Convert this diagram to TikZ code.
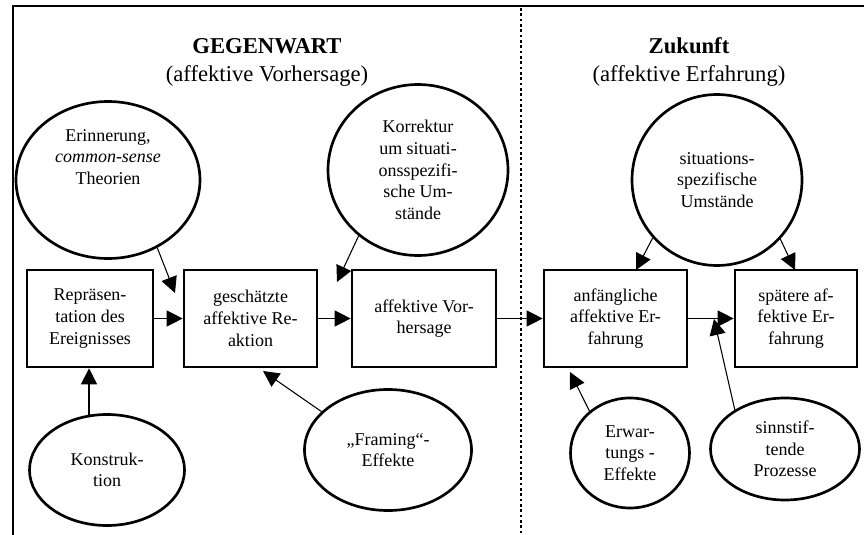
\documentclass[tikz,border=0pt]{standalone}
\usepackage{fontspec}
\setmainfont{Liberation Serif}
\usetikzlibrary{arrows.meta,shapes.geometric}

\begin{document}
\begin{tikzpicture}[x=0.75pt,y=-0.75pt,
	box/.style={draw,line width=2pt,minimum height=72.75pt,inner sep=0pt,align=center,font=\fontsize{13.5}{16.25}\selectfont},
	bubble/.style={draw,ellipse,line width=2pt,inner sep=0pt,align=center,font=\fontsize{13.5}{16.25}\selectfont},
	txt/.style={align=center,inner sep=0pt,font=\fontsize{13.5}{16.25}\selectfont},
	head/.style={anchor=base,inner sep=0pt,font=\fontsize{17}{21}\selectfont},
	arr/.style={-{Triangle[length=12pt,width=12pt]},line width=0.8pt}]
	\useasboundingbox (0,0) rectangle (864,535);

	% frame and divider
	\draw[line width=2.2pt] (13,535) -- (13,6) -- (864,6);
	\draw[line width=2pt,dash pattern=on 2pt off 2pt] (521,8) -- (521,535);

	% headings
	\node[head] (gegen) at (267,54) {\bfseries GEGENWART};
	\node[head] (gegensub) at (267,82) {(affektive Vorhersage)};
	\node[head] (zuk) at (689,54) {\bfseries Zukunft};
	\node[head] (zuksub) at (689,82) {(affektive Erfahrung)};

	% boxes
	\foreach \nm/\x/\w/\txt in {
		rep/90/94.5/{Repräsen-\\tation des\\Ereignisses},
		schaetz/250.5/99.75/{geschätzte\\affektive Re-\\aktion},
		vorh/424/108/{affektive Vor-\\hersage},
		anf/615.5/107.25/{anfängliche\\affektive Er-\\fahrung},
		spaet/796/91.5/{spätere af-\\fektive Er-\\fahrung}%
	} {
		\node[box,minimum width=\w pt] (\nm) at (\x,318.5) {\txt};
	}

	% bubbles
	\node[bubble,minimum width=138pt,minimum height=117.75pt] (erin) at (108,180) {};
	\node[txt] (erintxt) at (108,157) {Erinnerung,\\\textit{common-sense}\\Theorien};
	\node[bubble,minimum width=135pt,minimum height=128.25pt] (korr) at (418,170) {Korrektur\\um situati-\\onsspezifi-\\sche Um-\\stände};
	\node[bubble,minimum width=127.5pt,minimum height=128.25pt] (situ) at (717,180) {situations-\\spezifische\\Umstände};
	\node[bubble,minimum width=116.25pt,minimum height=83.25pt] (konstr) at (107,470) {Konstruk-\\tion};
	\node[bubble,minimum width=125.25pt,minimum height=90.75pt] (framing) at (388,450) {„Framing“-\\Effekte};
	\node[bubble,minimum width=89.25pt,minimum height=82.5pt] (erw) at (630,453) {Erwar-\\tungs -\\Effekte};
	\node[bubble,minimum width=111.75pt,minimum height=76.5pt] (sinn) at (785,449) {sinnstif-\\tende\\Prozesse};

	% arrow ends
	\coordinate (erintip) at (175,293);
	\coordinate (korrtip) at (337,282);
	\coordinate (frametip) at (263,371);
	\coordinate (situtipa) at (636,270);
	\coordinate (situtipb) at (795,270);
	\coordinate (erwtip) at (570,372);
	\coordinate (sinntip) at (714,319);

	% connectors
	\foreach \a/\b in {rep/schaetz,schaetz/vorh,vorh/anf,anf/spaet}
		\draw[arr] (\a) -- (\b);
	\draw[arr] (erin.-54) -- (erintip);
	\draw[arr] (korr.228) -- (korrtip);
	\draw[arr] (konstr.108) -- (konstr.108 |- rep.south);
	\draw[arr] (framing.150) -- (frametip);
	\draw[arr] (situ.222) -- (situtipa);
	\draw[arr] (situ.317) -- (situtipb);
	\draw[arr] (erw.134) -- (erwtip);
	\draw[arr] (sinn.142) -- (sinntip);
\end{tikzpicture}
\end{document}
